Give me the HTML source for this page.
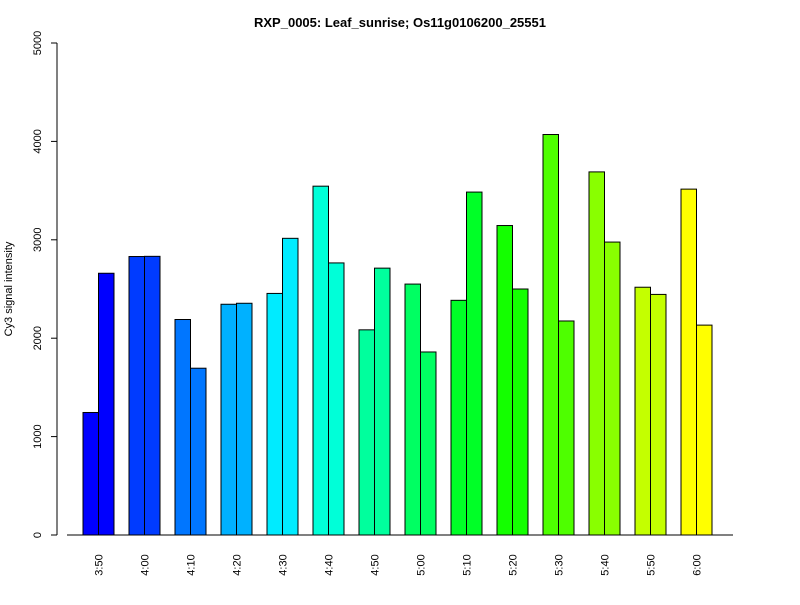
<!DOCTYPE html>
<html><head><meta charset="utf-8"><style>
body{margin:0;background:#fff}
svg text{font-family:"Liberation Sans",Arial,sans-serif}
</style></head><body>
<svg id="c" width="800" height="600" xmlns="http://www.w3.org/2000/svg">
<rect width="800" height="600" fill="#fff"/>
<text x="400" y="27" text-anchor="middle" font-size="13" font-weight="bold">RXP_0005: Leaf_sunrise; Os11g0106200_25551</text>
<text transform="translate(12,289) rotate(-90)" text-anchor="middle" font-size="11">Cy3 signal intensity</text>
<g id="plot"></g>
</svg>
<script>
const categories=["3:50","4:00","4:10","4:20","4:30","4:40","4:50","5:00","5:10","5:20","5:30","5:40","5:50","6:00"];
const series1=[1245,2830,2190,2345,2455,3545,2085,2550,2385,3145,4070,3690,2518,3515];
const series2=[2660,2832,1695,2355,3015,2765,2712,1860,3485,2500,2175,2977,2445,2133];
const yTicks=[0,1000,2000,3000,4000,5000];
const NS="http://www.w3.org/2000/svg";
const g=document.getElementById('plot');
const y0=535,yTop=43,yMax=5000;
function yScale(v){return y0-(v/yMax)*(y0-yTop);}
function xGroup(i){return 83+i*46;}
function mk(t,a){const e=document.createElementNS(NS,t);for(const k in a)e.setAttribute(k,a[k]);g.appendChild(e);return e;}
// y axis
let ax=mk('line',{x1:57,x2:57,y1:yScale(0),y2:yScale(yMax),stroke:'#000'});


yTicks.forEach(t=>{
 const tk=mk('line',{x1:51,x2:57,y1:yScale(t),y2:yScale(t),stroke:'#000'});
 
 
 const tx=mk('text',{transform:`translate(41,${yScale(t)}) rotate(-90)`,'text-anchor':'middle','font-size':'11'});
 tx.textContent=t;
 
 
});
// baseline
let bl=mk('line',{x1:67,x2:733,y1:y0,y2:y0,stroke:'#000'});


const n=categories.length;
categories.forEach((c,i)=>{
 const col=`hsl(${240-i*180/(n-1)},100%,50%)`;
 const x=xGroup(i);
 [series1[i],series2[i]].forEach((v,j)=>{
  const r=mk('rect',{x:x+j*15.5,y:yScale(v),width:15.5,height:y0-yScale(v),fill:col,stroke:'#000','stroke-width':1});
  
  
 });
 const tx=mk('text',{transform:`translate(${x+19.5},${565}) rotate(-90)`,'text-anchor':'middle','font-size':'11'});
 tx.textContent=c;
 
 
});
</script>
</body></html>
